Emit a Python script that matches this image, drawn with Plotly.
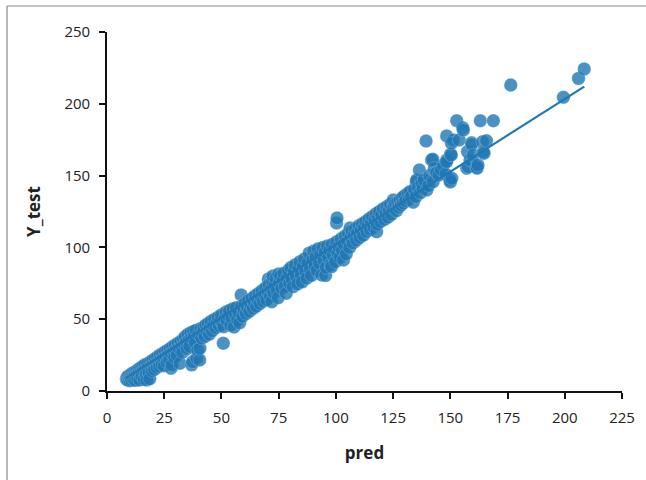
import plotly.graph_objects as go

# --- data (pred, Y_test) ---
pred = [
    8.5, 8.8, 9.0, 9.3, 9.6, 9.9, 10.2, 10.4, 10.8, 11.0, 11.3, 11.6, 12.0, 12.2, 12.5, 12.9, 13.1, 13.4, 13.8, 14.0,
    14.3, 14.7, 15.0, 15.2, 15.6, 15.9, 16.2, 16.5, 16.8, 17.1, 17.4, 17.7, 18.0, 18.3, 18.7, 19.0, 19.3, 19.6,
    20.0, 20.3, 20.7, 21.0, 21.4, 21.8, 22.1, 22.5, 22.9, 23.2, 23.6, 24.0, 24.3, 24.7, 25.0, 25.4, 25.8, 26.2,
    26.5, 26.9, 27.3, 27.6, 28.0, 28.0, 28.4, 28.7, 29.1, 29.5, 29.8,
    30.2, 30.6, 31.0, 31.4, 31.9, 32.2, 32.6, 33.0, 33.4, 33.8, 34.2, 34.6, 35.0, 35.4, 35.8, 36.2, 36.6, 37.0,
    37.0, 37.4, 37.8, 38.2, 38.6, 39.0, 39.2, 39.6, 40.0, 40.5, 40.6, 41.0, 41.4, 41.8, 42.3, 42.8, 43.2, 43.7,
    44.2, 44.7, 45.0,
    45.5, 46.0, 46.5, 47.0, 47.5, 48.0, 48.5, 49.0, 49.5, 50.0, 50.5, 50.8, 51.0, 51.5, 52.0, 52.5, 53.0, 53.5,
    54.0, 54.5, 55.0, 55.5, 56.0, 56.5, 57.0, 57.5, 58.0, 58.6, 58.8, 59.3, 59.8,
    60.3, 60.8, 61.3, 61.8, 62.3, 62.8, 63.3, 63.8, 64.3, 64.8, 65.3, 65.8, 66.3, 66.8, 67.3, 67.8, 68.3, 68.8,
    69.3, 69.8, 70.3, 70.5, 70.8, 71.3, 71.8, 72.0, 72.3, 72.5, 72.8, 73.3, 73.8, 74.3, 74.8, 75.0, 75.3, 75.8,
    76.3, 76.8, 77.3, 77.8, 78.3, 78.8, 79.3, 79.8,
    80.3, 80.8, 81.3, 81.8, 82.3, 82.8, 83.3, 83.8, 84.3, 84.8, 85.3, 85.8, 86.3, 86.8, 87.3, 87.8, 88.3, 88.8,
    89.3, 89.8, 90.3, 90.8, 91.3, 91.8, 92.3, 92.8, 93.3, 93.8, 94.3, 94.8, 95.3, 95.5, 95.8, 96.3, 96.8, 97.3,
    97.8, 98.1, 98.3, 98.8, 99.3, 99.8,
    100.3, 100.3, 100.5, 100.8, 101.3, 101.8, 102.3, 102.8, 103.3, 103.5, 104.0, 104.5, 105.0, 105.5, 106.0,
    106.2, 106.5, 107.0, 107.5, 108.0, 108.5, 109.0, 109.5, 110.0, 110.5, 111.0, 111.5, 112.0, 112.5, 113.0,
    113.5, 114.0, 114.5, 115.0, 115.5, 116.0, 116.5, 117.0, 117.5, 117.8, 118.0, 118.5, 119.0, 119.5, 120.0,
    120.7, 121.2, 121.8, 122.3, 122.8, 123.3, 123.8, 124.3, 124.8,
    125.1, 125.5, 126.0, 126.5, 127.0, 127.5, 128.0, 128.5, 129.0, 129.5, 130.0, 130.5, 131.5, 132.0, 132.5,
    133.0, 133.8, 134.3, 135.0, 135.1, 135.3, 136.0, 136.5, 137.0, 137.5, 138.0, 138.5, 139.4, 139.7, 140.5,
    141.0, 141.8, 142.3, 142.5, 143.0, 144.0, 145.0, 146.0, 147.0, 148.0, 148.4, 148.4, 148.4, 149.8, 150.0,
    150.1, 150.4, 150.6, 151.3, 150.5,
    152.8, 153.9, 155.4, 155.7, 157.2, 157.5, 157.8, 158.6, 159.3, 159.4, 160.0, 161.5, 161.7, 162.1, 163.1,
    164.1, 164.4, 164.7, 165.8, 168.8, 176.4, 199.4, 206.0, 208.5,
]
y_test = [
    8.2, 9.5, 7.6, 10.4, 8.8, 7.2, 11.0, 9.1, 7.5, 12.3, 10.0, 8.3, 13.1, 10.8, 7.4, 14.0, 11.5, 9.0, 15.2, 12.4,
    7.6, 16.1, 13.0, 10.2, 17.0, 14.3, 8.0, 18.2, 15.1, 11.5, 7.7, 19.0, 16.0, 12.8, 8.5, 20.3, 17.4, 14.0,
    21.4, 18.2, 15.0, 22.5, 19.6, 16.3, 23.8, 20.5, 17.4, 25.0, 21.8, 18.5, 26.1, 23.0, 17.6, 27.3, 24.1, 20.0,
    28.4, 25.2, 21.7, 29.5, 15.8, 26.4, 18.0, 30.8, 27.5, 23.6, 32.0,
    28.7, 25.0, 33.2, 30.0, 19.3, 34.5, 31.2, 27.0, 36.0, 32.5, 38.0, 34.0, 29.5, 39.5, 35.5, 31.0, 40.5, 18.2,
    37.0, 20.4, 41.5, 38.2, 33.6, 42.3, 22.8, 28.5, 39.5, 21.6, 29.7, 43.5, 36.8, 40.8, 44.5, 38.0, 46.0, 42.0,
    47.0, 39.5, 44.0,
    48.5, 42.0, 45.7, 50.0, 44.0, 47.5, 51.3, 45.5, 49.0, 53.0, 47.0, 33.2, 44.8, 50.5, 55.0, 48.8, 52.5, 56.0,
    46.0, 51.0, 57.2, 44.5, 53.5, 58.0, 49.5, 55.0, 47.5, 66.9, 59.0, 52.0, 56.5,
    61.0, 54.0, 58.5, 63.0, 55.5, 60.0, 64.5, 57.5, 62.0, 66.5, 59.0, 63.5, 68.0, 61.0, 65.5, 70.0, 62.5, 67.5,
    72.0, 63.5, 69.0, 78.0, 74.0, 66.0, 71.0, 62.2, 76.0, 80.0, 68.5, 73.5, 78.5, 70.0, 65.0, 81.5, 75.5, 80.0,
    71.5, 77.0, 82.0, 73.0, 68.0, 79.0, 84.0, 75.0,
    86.0, 78.0, 72.6, 83.0, 88.0, 79.5, 74.5, 85.0, 90.0, 81.0, 76.0, 87.0, 92.0, 83.0, 78.5, 89.0, 96.0, 85.0,
    80.5, 91.0, 97.5, 87.0, 93.5, 84.0, 99.0, 89.0, 95.0, 80.8, 100.0, 91.0, 96.5, 80.5, 86.0, 101.0, 93.0, 98.0,
    88.0, 86.6, 102.0, 94.5, 99.0, 90.0,
    104.0, 117.0, 120.5, 96.0, 100.5, 93.0, 106.0, 98.0, 91.2, 102.5, 108.0, 95.5, 104.5, 110.0, 100.0,
    113.5, 107.0, 111.5, 103.0, 108.5, 113.0, 105.0, 110.5, 115.0, 107.0, 112.0, 116.5, 108.5, 114.0, 118.0,
    111.0, 115.5, 120.0, 112.5, 117.5, 121.5, 114.0, 119.0, 123.5, 110.9, 116.0, 121.0, 125.0, 118.0, 122.5,
    127.0, 119.5, 124.5, 128.5, 121.0, 126.0, 130.0, 123.0, 127.5,
    133.0, 129.0, 130.7, 125.5, 131.5, 128.0, 133.0, 129.5, 134.5, 131.0, 136.0, 132.5, 137.7, 133.5, 139.0,
    135.5, 131.5, 140.5, 135.3, 145.8, 146.9, 142.0, 153.9, 138.0, 144.5, 141.0, 147.0, 174.1, 140.0, 143.0,
    150.0, 160.9, 161.3, 145.8, 155.0, 152.0, 150.4, 154.0, 157.5, 151.0, 177.6, 160.9, 159.7, 146.9, 145.5,
    164.8, 164.3, 148.1, 174.8, 172.5,
    188.2, 174.8, 183.4, 181.8, 155.1, 166.7, 156.2, 160.9, 172.9, 171.8, 164.3, 156.2, 155.1, 157.4, 188.2,
    173.6, 166.6, 165.5, 174.3, 188.2, 213.1, 204.5, 217.7, 224.2,
]

# regression line end points
fit_x = [8.0, 208.5]
fit_y = [8.7, 212.0]

x_ticks = [0, 25, 50, 75, 100, 125, 150, 175, 200, 225]
y_ticks = [0, 50, 100, 150, 200, 250]

BLUE = "#1f77b4"
FONT = "Open Sans"

fig = go.Figure()
fig.add_trace(go.Scatter(
    x=pred, y=y_test, mode="markers",
    marker=dict(size=13.5, color=BLUE, opacity=0.8,
                line=dict(color="rgba(255,255,255,0.3)", width=0.8)),
    showlegend=False, hoverinfo="x+y",
))
fig.add_trace(go.Scatter(
    x=fit_x, y=fit_y, mode="lines",
    line=dict(color=BLUE, width=2.2), showlegend=False,
))

axis_common = dict(
    showline=True, linecolor="#111111", linewidth=1.6,
    ticks="outside", ticklen=6, tickwidth=1.6, tickcolor="#111111",
    showgrid=False, zeroline=False,
    tickfont=dict(family=FONT, size=15, color="#222222"),
)

PW, PH = 515, 359  # plot area size in px
L, T = 107, 32

fig.update_layout(
    width=646, height=480,
    margin=dict(l=L, r=646 - L - PW, t=T, b=480 - T - PH),
    paper_bgcolor="white", plot_bgcolor="white",
    xaxis=dict(range=[0, 225], tickvals=x_ticks, ticklabelstandoff=6,
               title=dict(text="<b>pred</b>", font=dict(family=FONT, size=17, color="#222222"), standoff=21),
               **axis_common),
    yaxis=dict(range=[0, 250], tickvals=y_ticks, ticklabelstandoff=6,
               title=dict(text="<b>Y_test</b>", font=dict(family=FONT, size=17, color="#222222"), standoff=20),
               **axis_common),
    shapes=[
        dict(type="line", xref="paper", yref="paper",
             x0=(7 - L) / PW, x1=(646 - L) / PW,
             y0=(T + PH - 6) / PH, y1=(T + PH - 6) / PH,
             line=dict(color="#8a8a8a", width=1.2)),
        dict(type="line", xref="paper", yref="paper",
             x0=(7 - L) / PW, x1=(7 - L) / PW,
             y0=(T + PH - 6) / PH, y1=(T + PH - 480) / PH,
             line=dict(color="#8a8a8a", width=1.2)),
    ],
)

fig.write_html("out.html", config={"displayModeBar": False},
               post_script="document.body.style.margin='0px';")
